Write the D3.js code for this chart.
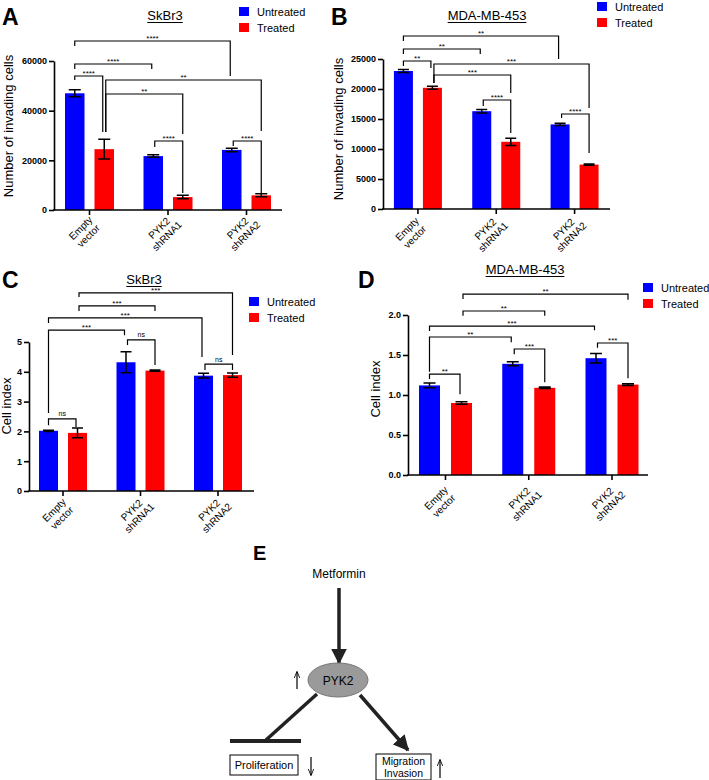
<!DOCTYPE html>
<html><head><meta charset="utf-8">
<script src="https://cdn.jsdelivr.net/npm/d3@7"></script>
<style>body{margin:0;background:#fff} text{font-family: Arial, "Liberation Sans", Helvetica, sans-serif; fill:#000}</style>
</head><body><svg id="c" width="709" height="780" xmlns="http://www.w3.org/2000/svg"></svg>
<script>
// ---------------- DATA ----------------
const categories = ["Empty vector", "PYK2 shRNA1", "PYK2 shRNA2"];
const seriesNames = ["Untreated", "Treated"];
const colors = ["#0000ff", "#ff0000"];

// Panel A: SkBr3 invasion
const aUntreated = [47000, 21700, 24200];
const aTreated = [24500, 5200, 5900];
const aErrUntreated = [1400, 500, 700];
const aErrTreated = [4000, 700, 600];
const aTicks = [0, 20000, 40000, 60000];
// [group1, series1, group2, series2, top, leftEnd, rightEnd, label]
const aBrackets = [
  [0,0,2,0, 68060, 66040, 53960, "****"],
  [0,0,1,0, 58790, 56780, 56780, "****"],
  [0,0,0,1, 53960, 52350, 31410, "****"],
  [0,1,2,1, 52350, 31410, 31810, "**"],
  [0,1,1,1, 46710, 31410, 30600, "**"],
  [1,0,1,1, 27790, 25370, 6850, "****"],
  [2,0,2,1, 27790, 25770, 6850, "****"]
];

// Panel B: MDA-MB-453 invasion
const bUntreated = [23000, 16300, 14100];
const bTreated = [20200, 11200, 7400];
const bErrUntreated = [250, 300, 200];
const bErrTreated = [250, 600, 100];
const bTicks = [0, 5000, 10000, 15000, 20000, 25000];
const bBrackets = [
  [0,0,2,0, 28830, 28000, 25000, "**"],
  [0,0,1,0, 26670, 25830, 25830, "**"],
  [0,0,0,1, 24670, 23830, 23500, "**"],
  [0,1,2,1, 24170, 21000, 16830, "***"],
  [0,1,1,1, 22330, 21000, 19330, "***"],
  [1,0,1,1, 18170, 17170, 12670, "****"],
  [2,0,2,1, 15830, 15170, 9330, "****"]
];

// Panel C: SkBr3 cell index
const cUntreated = [2.02, 4.32, 3.87];
const cTreated = [1.95, 4.04, 3.89];
const cErrUntreated = [0.02, 0.35, 0.08];
const cErrTreated = [0.16, 0.02, 0.07];
const cTicks = [0, 1, 2, 3, 4, 5];
const cBrackets = [
  [0,1,2,1, 6.65, 6.51, 4.56, "***"],
  [0,1,1,1, 6.21, 6.04, 6.04, "***"],
  [0,0,2,0, 5.81, 5.64, 4.50, "***"],
  [0,0,1,0, 5.40, 2.62, 5.23, "***"],
  [1,0,1,1, 5.07, 4.90, 4.23, "ns"],
  [2,0,2,1, 4.26, 4.06, 4.06, "ns"],
  [0,0,0,1, 2.42, 2.21, 2.15, "ns"]
];

// Panel D: MDA-MB-453 cell index
const dUntreated = [1.12, 1.39, 1.46];
const dTreated = [0.90, 1.09, 1.13];
const dErrUntreated = [0.03, 0.025, 0.06];
const dErrTreated = [0.015, 0.01, 0.01];
const dTicks = [0, 0.5, 1.0, 1.5, 2.0];
const dBrackets = [
  [0,1,2,1, 2.26, 2.20, 2.19, "**"],
  [0,1,1,1, 2.05, 1.99, 1.99, "**"],
  [0,0,2,0, 1.86, 1.80, 1.81, "***"],
  [0,0,1,0, 1.725, 1.29, 1.66, "**"],
  [1,0,1,1, 1.575, 1.51, 1.16, "***"],
  [2,0,2,1, 1.65, 1.59, 1.21, "***"],
  [0,0,0,1, 1.26, 1.20, 1.01, "**"]
];

// ---------------- DRAW ----------------
const svg = d3.select("#c");

function drawPanel(D, L) {
  const g = svg.append("g");
  const y = d3.scaleLinear().domain(L.domain).range(L.yRange);
  const x = d3.scaleBand().domain(categories).range(L.xRange);
  const half = L.bw + L.gap / 2;
  const inner = d3.scaleBand().domain(seriesNames).range([-half, half]).paddingInner(L.gap / (L.bw + L.gap));
  const cx = gi => x(categories[gi]) + x.bandwidth() / 2;
  const bx = (gi, si) => cx(gi) + inner(seriesNames[si]) + inner.bandwidth() / 2;
  const series = [D.untreated, D.treated];
  const errs = [D.errU, D.errT];

  seriesNames.forEach((s, si) => {
    g.append("g").selectAll("rect").data(series[si]).join("rect")
      .attr("x", (v, i) => cx(i) + inner(s))
      .attr("width", inner.bandwidth())
      .attr("y", v => y(v))
      .attr("height", v => y(0) - y(v))
      .attr("fill", colors[si]);
    const eg = g.append("g").attr("stroke", "#000").attr("stroke-width", 1.5).attr("fill", "none");
    series[si].forEach((v, i) => {
      const e = errs[si][i], xx = bx(i, si), cw = L.cap / 2;
      eg.append("path").attr("d",
        `M${xx},${y(v - e)}V${y(v + e)}M${xx - cw},${y(v + e)}H${xx + cw}M${xx - cw},${y(v - e)}H${xx + cw}`);
    });
  });

  // y axis
  const ya = g.append("g").attr("transform", `translate(${L.axisX[0]},0)`)
    .call(d3.axisLeft(y).tickValues(D.ticks).tickSize(5).tickSizeOuter(0).tickPadding(2).tickFormat(L.fmt));
  ya.selectAll("path,line").attr("stroke", "#000").attr("stroke-width", 1.6);
  ya.selectAll("text").attr("font-size", 9).attr("font-weight", "bold")
    .attr("font-family", "Arial, 'Liberation Sans', sans-serif").attr("fill", "#000");

  // x axis
  g.append("line").attr("x1", L.axisX[0] - 0.8).attr("x2", L.axisX[1])
    .attr("y1", y(0)).attr("y2", y(0)).attr("stroke", "#000").attr("stroke-width", 1.6);
  categories.forEach((c, i) => {
    g.append("line").attr("x1", cx(i)).attr("x2", cx(i)).attr("y1", y(0)).attr("y2", y(0) + 5)
      .attr("stroke", "#000").attr("stroke-width", 1.6);
    const lines = c.split(" ");
    const t = g.append("g").attr("transform", `translate(${cx(i) + L.lblDx},${y(0) + L.lblDy}) rotate(-45)`);
    lines.forEach((ln, k) => {
      t.append("text").attr("text-anchor", "middle").attr("font-size", 10)
        .attr("y", (k - (lines.length - 1) / 2) * 11 + 3.5).text(ln);
    });
  });

  // brackets
  const bg = g.append("g");
  D.brackets.forEach(b => {
    const [g1, s1, g2, s2, top, le, re, lab] = b;
    const leftShared = D.brackets.some(o => o !== b && o[2] === g1 && o[3] === s1);
    const rightShared = D.brackets.some(o => o !== b && o[0] === g2 && o[1] === s2);
    const x1 = bx(g1, s1) + (leftShared ? 1.5 : 0);
    const x2 = bx(g2, s2) - (rightShared ? 1.5 : 0);
    bg.append("path").attr("d", `M${x1},${y(le)}V${y(top)}H${x2}V${y(re)}`)
      .attr("fill", "none").attr("stroke", "#000").attr("stroke-width", 1.2);
    const ns = lab === "ns";
    bg.append("text").attr("x", (x1 + x2) / 2).attr("y", y(top) - (ns ? 2.5 : 0))
      .attr("text-anchor", "middle").attr("font-size", ns ? 7 : 8).text(lab);
  });

  // title
  const tt = g.append("text").attr("x", L.titleX).attr("y", L.titleY).attr("text-anchor", "middle")
    .attr("font-size", 13).text(L.title);
  const tw = tt.node().getComputedTextLength();
  g.append("line").attr("x1", L.titleX - tw / 2).attr("x2", L.titleX + tw / 2)
    .attr("y1", L.titleY + 2.5).attr("y2", L.titleY + 2.5).attr("stroke", "#000").attr("stroke-width", 1);

  // y label
  g.append("text").attr("transform", `translate(${L.ylX},${L.ylY}) rotate(-90)`)
    .attr("text-anchor", "middle").attr("font-size", 13).text(L.ylabel);

  // panel letter
  g.append("text").attr("x", L.letterX).attr("y", L.letterY).attr("font-size", 23)
    .attr("font-weight", "bold").text(L.letter);

  // legend
  seriesNames.forEach((s, si) => {
    g.append("rect").attr("x", L.legX).attr("y", L.legY + si * 16).attr("width", 10).attr("height", 9)
      .attr("fill", colors[si]);
    g.append("text").attr("x", L.legX + 18).attr("y", L.legY + si * 16 + 8.5).attr("font-size", 11).text(s);
  });
}

drawPanel({untreated: aUntreated, treated: aTreated, errU: aErrUntreated, errT: aErrTreated, ticks: aTicks, brackets: aBrackets},
  {domain: [0, 60000], yRange: [210, 61], xRange: [50.25, 285.75], bw: 19.5, gap: 10, cap: 12,
   axisX: [54, 282], fmt: d3.format("d"), lblDx: -5, lblDy: 22,
   title: "SkBr3", titleX: 165, titleY: 20, ylabel: "Number of invading cells", ylX: 13, ylY: 126,
   letter: "A", letterX: 2, letterY: 25, legX: 239, legY: 7});

drawPanel({untreated: bUntreated, treated: bTreated, errU: bErrUntreated, errT: bErrTreated, ticks: bTicks, brackets: bBrackets},
  {domain: [0, 25000], yRange: [209, 59], xRange: [378.75, 613.75], bw: 19, gap: 10, cap: 11,
   axisX: [383, 610], fmt: d3.format("d"), lblDx: -7, lblDy: 24,
   title: "MDA-MB-453", titleX: 487, titleY: 20, ylabel: "Number of invading cells", ylX: 343, ylY: 129,
   letter: "B", letterX: 331, letterY: 25, legX: 597, legY: 2});

drawPanel({untreated: cUntreated, treated: cTreated, errU: cErrUntreated, errT: cErrTreated, ticks: cTicks, brackets: cBrackets},
  {domain: [0, 5], yRange: [491, 342], xRange: [24.25, 256.75], bw: 19, gap: 10, cap: 11,
   axisX: [29, 254], fmt: d3.format("d"), lblDx: -5, lblDy: 23,
   title: "SkBr3", titleX: 144, titleY: 284, ylabel: "Cell index", ylX: 11, ylY: 406,
   letter: "C", letterX: 2, letterY: 288, legX: 249, legY: 297});

drawPanel({untreated: dUntreated, treated: dTreated, errU: dErrUntreated, errT: dErrTreated, ticks: dTicks, brackets: dBrackets},
  {domain: [0, 2], yRange: [475, 315], xRange: [403.875, 653.625], bw: 21, gap: 11, cap: 12,
   axisX: [408, 648], fmt: d3.format(".1f"), lblDx: -5.5, lblDy: 27,
   title: "MDA-MB-453", titleX: 525, titleY: 274, ylabel: "Cell index", ylX: 380, ylY: 389,
   letter: "D", letterX: 358, letterY: 288, legX: 643, legY: 283});

// ---------------- PANEL E (schematic) ----------------
const E = svg.append("g");
const defs = svg.append("defs");
defs.append("marker").attr("id", "ah").attr("viewBox", "0 0 10 10").attr("refX", 9).attr("refY", 5)
  .attr("markerWidth", 4.5).attr("markerHeight", 4.5).attr("orient", "auto")
  .append("path").attr("d", "M0,0L10,5L0,10z").attr("fill", "#222");
defs.append("marker").attr("id", "sa").attr("viewBox", "0 0 10 10").attr("refX", 9).attr("refY", 5)
  .attr("markerWidth", 6).attr("markerHeight", 6).attr("orient", "auto")
  .append("path").attr("d", "M0,1L10,5L0,9").attr("fill", "none").attr("stroke", "#000").attr("stroke-width", 1.2);

E.append("text").attr("x", 253).attr("y", 560).attr("font-size", 20).attr("font-weight", "bold").text("E");
E.append("text").attr("x", 339).attr("y", 578).attr("text-anchor", "middle").attr("font-size", 12).text("Metformin");
E.append("line").attr("x1", 339).attr("y1", 588).attr("x2", 339).attr("y2", 663)
  .attr("stroke", "#222").attr("stroke-width", 3.5).attr("marker-end", "url(#ah)");
E.append("ellipse").attr("cx", 338).attr("cy", 680).attr("rx", 30).attr("ry", 17)
  .attr("fill", "#9a9a9a").attr("stroke", "#777").attr("stroke-width", 1);
E.append("text").attr("x", 338).attr("y", 684.5).attr("text-anchor", "middle").attr("font-size", 12).text("PYK2");
E.append("line").attr("x1", 297).attr("y1", 689).attr("x2", 297).attr("y2", 672)
  .attr("stroke", "#000").attr("stroke-width", 1.2).attr("marker-end", "url(#sa)");
E.append("line").attr("x1", 317).attr("y1", 694).attr("x2", 266).attr("y2", 740)
  .attr("stroke", "#222").attr("stroke-width", 3.5);
E.append("line").attr("x1", 230).attr("y1", 741).attr("x2", 301).attr("y2", 741)
  .attr("stroke", "#222").attr("stroke-width", 4);
E.append("rect").attr("x", 230).attr("y", 755).attr("width", 68).attr("height", 20)
  .attr("fill", "none").attr("stroke", "#000").attr("stroke-width", 1);
E.append("text").attr("x", 264).attr("y", 769).attr("text-anchor", "middle").attr("font-size", 11).text("Proliferation");
E.append("line").attr("x1", 311).attr("y1", 757).attr("x2", 311).attr("y2", 775)
  .attr("stroke", "#000").attr("stroke-width", 1.2).attr("marker-end", "url(#sa)");
E.append("line").attr("x1", 360).attr("y1", 695).attr("x2", 408).attr("y2", 750)
  .attr("stroke", "#222").attr("stroke-width", 3.5).attr("marker-end", "url(#ah)");
E.append("rect").attr("x", 376).attr("y", 754).attr("width", 55).attr("height", 26)
  .attr("fill", "none").attr("stroke", "#000").attr("stroke-width", 1);
E.append("text").attr("x", 403.5).attr("y", 765).attr("text-anchor", "middle").attr("font-size", 10.5).text("Migration");
E.append("text").attr("x", 403.5).attr("y", 777).attr("text-anchor", "middle").attr("font-size", 10.5).text("Invasion");
E.append("line").attr("x1", 440).attr("y1", 778).attr("x2", 440).attr("y2", 760)
  .attr("stroke", "#000").attr("stroke-width", 1.2).attr("marker-end", "url(#sa)");
</script></body></html>
